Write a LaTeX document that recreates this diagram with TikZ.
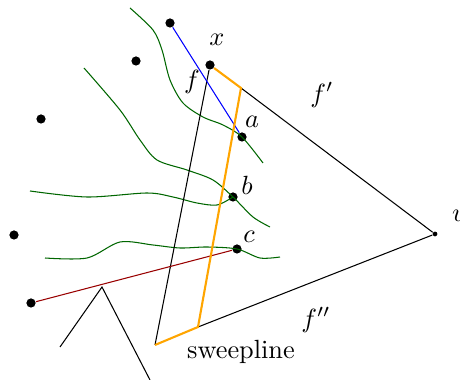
\documentclass[tikz,border=0pt]{standalone}
\usepackage{xcolor}
\usepackage{tikz}
\usetikzlibrary{positioning}

\definecolor{frontorange}{RGB}{255,165,0}

\begin{document}
\begin{tikzpicture}[
    x=0.38pt, y=-0.38pt,
    site/.style={circle, fill=black, inner sep=0pt, minimum size=3.5pt},
    apex/.style={circle, fill=black, inner sep=0pt, minimum size=1.8pt},
    wave/.style={green!40!black, thin},
    edge/.style={black, thin},
    front/.style={frontorange, thick},
    lbl/.style={font=\normalsize}
]
\useasboundingbox (0,0) rectangle (460,380);

% Sites
\node[site] (x) at (210,65) {};
\node[site] (a) at (242,137) {};
\node[site] (b) at (233,197) {};
\node[site] (c) at (237,249) {};
\node[apex] (v) at (435,234) {};
\node[site] (s1) at (170,23) {};
\node[site] (s2) at (136,61) {};
\node[site] (s3) at (41,119) {};
\node[site] (s4) at (14,235) {};
\node[site] (s5) at (31,303) {};

% Corners of the front
\coordinate (o1) at (241,88);
\coordinate (o2) at (198,327);
\coordinate (o3) at (155,345);
\coordinate (t) at (102,287);
\coordinate (t1) at (60,347);
\coordinate (t2) at (150,380);

% Labels
\node[lbl] at (217,40) {$x$};
\node[lbl] at (252,122) {$a$};
\node[lbl] at (247,185) {$b$};
\node[lbl] at (249,237) {$c$};
\node[lbl] at (459,216) {$v$};
\node[lbl] at (192,82) {$f$};
\node[lbl] at (322,95) {$f'$};
\node[lbl] at (316,320) {$f''$};
\node[lbl] at (241,352) {sweepline};

% Wavy curves
\draw[wave] plot[smooth] coordinates {(130,8) (153,30) (162,50) (170,80) (183,103) (203,117) (223,125) (a) (263,163)};
\draw[wave] plot[smooth] coordinates {(84,68) (120,110) (140,140) (157,160) (187,170) (213,180) (b) (253,217) (270,227)};
\draw[wave] plot[smooth] coordinates {(30,191) (87,197) (147,193) (173,197) (197,203) (217,205) (b)};
\draw[wave] plot[smooth] coordinates {(45,258) (87,258) (120,242) (153,245) (180,248) (207,247) (c) (260,258) (280,257)};

% Edges
\draw[edge] (x) -- (o3);
\draw[edge] (o1) -- (v);
\draw[edge] (o2) -- (v);
\draw[edge] (t1) -- (t) -- (t2);
\draw[blue, thin] (s1) -- (a);
\draw[red!60!black, thin] (s5) -- (c);

% Front
\draw[front] (x) -- (o1) -- (o2) -- (o3);

\end{tikzpicture}
\end{document}
